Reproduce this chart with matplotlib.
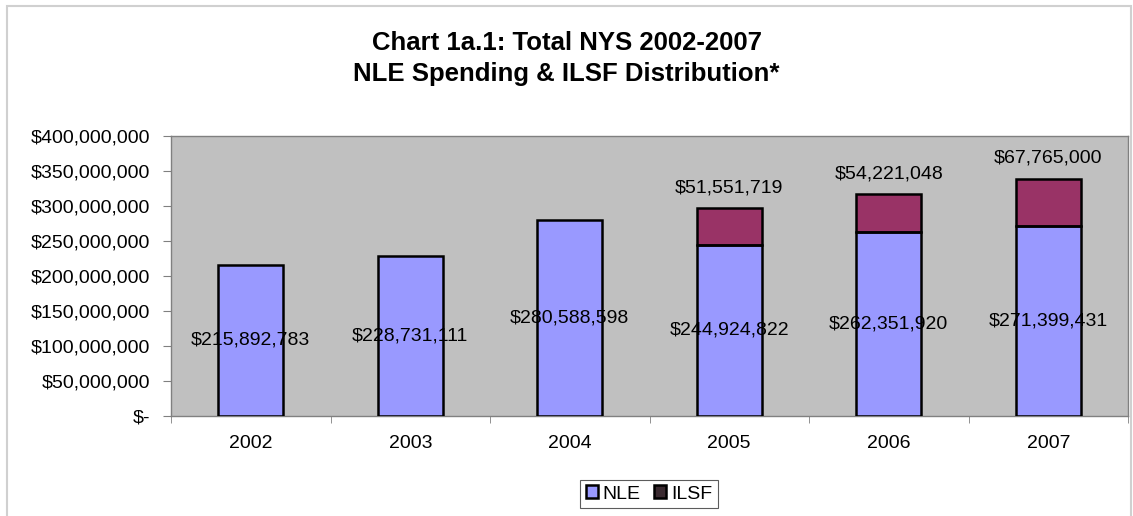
import numpy as np
import matplotlib
matplotlib.use("Agg")
import matplotlib.pyplot as plt
from matplotlib.patches import Rectangle

# =========================
# DATA
# =========================
years = ["2002", "2003", "2004", "2005", "2006", "2007"]
nle = [215892783, 228731111, 280588598, 244924822, 262351920, 271399431]
ilsf = [0, 0, 0, 51551719, 54221048, 67765000]
yticks = [0, 50e6, 100e6, 150e6, 200e6, 250e6, 300e6, 350e6, 400e6]

nle_color = "#9999FF"
ilsf_color = "#993366"

plt.rcParams["font.family"] = ["Liberation Sans", "DejaVu Sans"]

fig = plt.figure(figsize=(11.33, 5.16), dpi=100)
ax = fig.add_axes([171 / 1133, 1 - 416 / 516, (1128 - 171) / 1133, 280 / 516])
ax.set_facecolor("#C0C0C0")

x = np.arange(len(years))
w = 0.41

# fill first, text in between, edges on top (edges cover parts of the labels like in the original)
ax.bar(x, nle, w, color=nle_color, edgecolor="none", zorder=2)
ax.bar(x, ilsf, w, bottom=nle, color=ilsf_color, edgecolor="none", zorder=2)

for i in range(len(years)):
    ax.text(x[i], nle[i] / 2, "${:,}".format(nle[i]), ha="center", va="center",
            fontsize=14, zorder=3)
    if ilsf[i] > 0:
        ax.text(x[i], nle[i] + ilsf[i] + 29e6, "${:,}".format(ilsf[i]),
                ha="center", va="center", fontsize=14, zorder=3)

ax.bar(x, nle, w, color="none", edgecolor="black", linewidth=1.8, zorder=4)
ilsf_edges = ax.bar(x, ilsf, w, bottom=nle, color="none", edgecolor="black",
                    linewidth=1.8, zorder=4)
for i, p in enumerate(ilsf_edges):
    if ilsf[i] == 0:
        p.set_visible(False)

ax.set_xlim(-0.5, len(years) - 0.5)
ax.set_ylim(0, 400e6)
ax.set_yticks(yticks)
ax.set_yticklabels(["$-" if v == 0 else "${:,.0f}".format(v) for v in yticks])
ax.set_xticks(x)
ax.set_xticklabels(years)
ax.set_xticks(np.arange(-0.5, len(years)), minor=True)
ax.tick_params(axis="x", which="major", length=0, pad=14, labelsize=14)
ax.tick_params(axis="x", which="minor", length=5, color="#808080")
ax.tick_params(axis="y", length=6, color="#808080", pad=9, labelsize=14)
for s in ax.spines.values():
    s.set_color("#808080")
    s.set_linewidth(1)

fig.text(0.5, 1 - 43 / 516, "Chart 1a.1: Total NYS 2002-2007", ha="center", va="center",
         fontsize=18.5, fontweight="bold")
fig.text(0.5, 1 - 74 / 516, "NLE Spending & ILSF Distribution*", ha="center", va="center",
         fontsize=18.5, fontweight="bold")

h1 = Rectangle((0, 0), 1, 1, facecolor=nle_color, edgecolor="black", linewidth=1.8)
h2 = Rectangle((0, 0), 1, 1, facecolor="#3a2a30", edgecolor="black", linewidth=1.8)
leg = fig.legend([h1, h2], ["NLE", "ILSF"], loc="center", bbox_to_anchor=(649 / 1133, 1 - 494 / 516),
                 ncol=2, fontsize=14, frameon=True, fancybox=False, handlelength=0.6,
                 handleheight=0.6, handletextpad=0.25, columnspacing=0.7, borderpad=0.3)
leg.get_frame().set_edgecolor("#333333")
leg.get_frame().set_linewidth(0.8)

# outer chart border
fig.patches.append(Rectangle((7 / 1133, -0.01), 1124 / 1133, 1 - 6 / 516 + 0.01,
                             transform=fig.transFigure, fill=False,
                             edgecolor="#D0D0D0", linewidth=1.5))

fig.savefig("out.png", dpi=100)
